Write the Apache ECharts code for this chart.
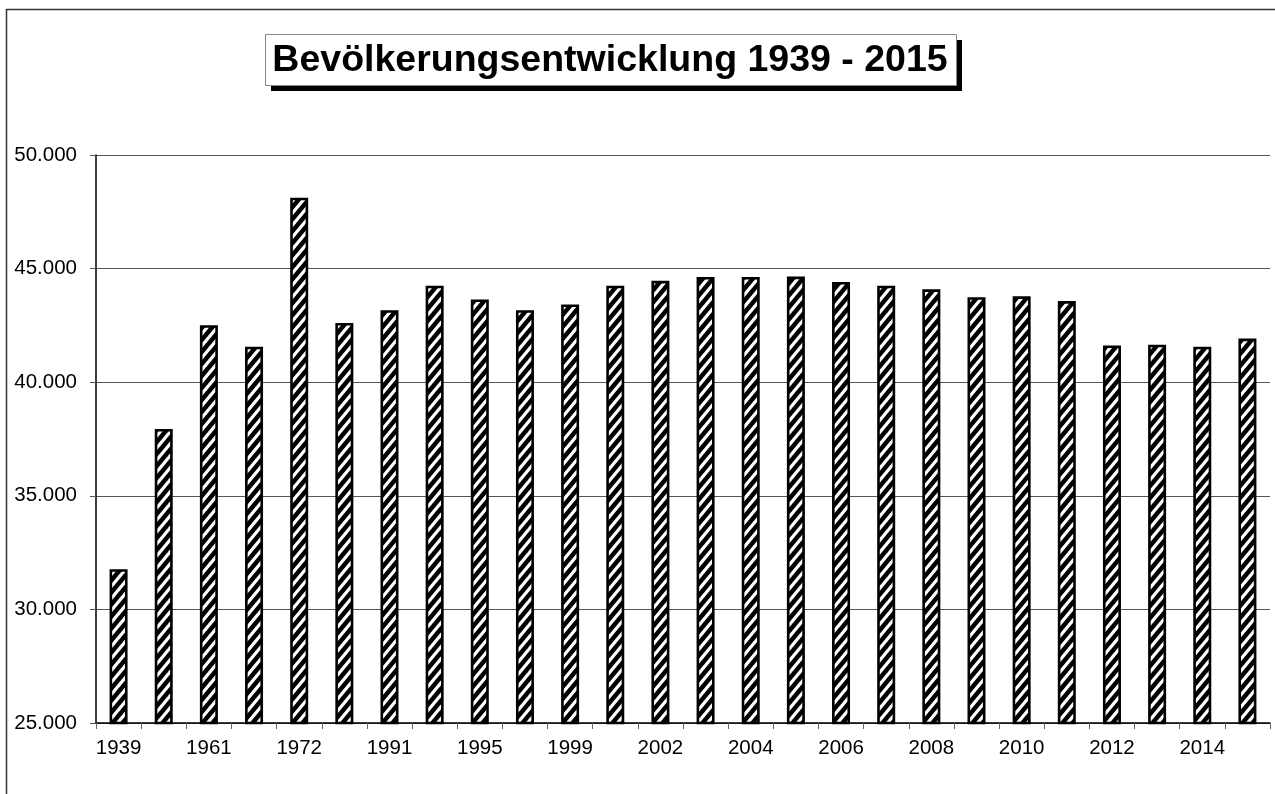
<!DOCTYPE html>
<html>
<head>
<meta charset="utf-8">
<title>Bevölkerungsentwicklung 1939 - 2015</title>
<script src="https://cdn.jsdelivr.net/npm/echarts@6/dist/echarts.min.js"></script>
<style>
    html, body { margin: 0; padding: 0; background: #fff; }
    #chart { width: 1275px; height: 794px; }
</style>
</head>
<body>
<div id="chart"></div>
<script>
// Jahre (x-Achse) und Einwohnerzahlen
let years = ['1939', '1951', '1961', '1970', '1972', '1981', '1991', '1993', '1995', '1997',
    '1999', '2001', '2002', '2003', '2004', '2005', '2006', '2007', '2008', '2009',
    '2010', '2011', '2012', '2013', '2014', '2015'];
let population = [31770, 37940, 42510, 41560, 48120, 42610, 43170, 44250, 43640, 43170,
    43420, 44250, 44460, 44630, 44630, 44650, 44410, 44250, 44090, 43740,
    43780, 43570, 41620, 41650, 41560, 41920];

let y_min = 25000;
let y_max = 50000;
let y_step = 5000;

let font = 'Liberation Sans, Arial, sans-serif';

// black fill with white diagonal stripes
function makeHatch() {
    let w = 10, h = 12;
    let c = document.createElement('canvas');
    c.width = w;
    c.height = h;
    let ctx = c.getContext('2d');
    ctx.fillStyle = '#000';
    ctx.fillRect(0, 0, w, h);
    ctx.strokeStyle = '#fff';
    ctx.lineWidth = 3.2;
    ctx.beginPath();
    for (let k = -1; k <= 1; k++) {
        ctx.moveTo(-w + k * w, 2 * h);
        ctx.lineTo(2 * w + k * w, -h);
    }
    ctx.stroke();
    return c;
}

function drawChart() {
    let my_chart = echarts.init(document.getElementById('chart'));

    let option = {
        animation: false,
        backgroundColor: '#fff',
        graphic: [
            {
                type: 'rect',
                z: -10,
                shape: { x: 6.5, y: 9.5, width: 1400, height: 1000 },
                style: { fill: 'none', stroke: '#333', lineWidth: 1.5 }
            },
            {
                type: 'rect',
                shape: { x: 271, y: 40, width: 691, height: 51 },
                style: { fill: '#000' }
            },
            {
                type: 'rect',
                shape: { x: 265.5, y: 34.5, width: 691, height: 51 },
                style: { fill: '#fff', stroke: '#888', lineWidth: 1 }
            },
            {
                type: 'text',
                x: 610,
                y: 61,
                style: {
                    text: 'Bevölkerungsentwicklung 1939 - 2015',
                    font: 'bold 37.5px ' + font,
                    fill: '#000',
                    align: 'center',
                    verticalAlign: 'middle'
                }
            }
        ],
        grid: {
            left: 96,
            right: 5,
            top: 155,
            bottom: 71
        },
        xAxis: {
            type: 'category',
            data: years,
            boundaryGap: true,
            axisLine: { lineStyle: { color: '#000', width: 1.5 } },
            axisTick: {
                show: true,
                interval: 0,
                length: 6,
                lineStyle: { color: '#666' }
            },
            axisLabel: {
                interval: 1,
                margin: 15,
                color: '#000',
                fontSize: 20.5,
                fontFamily: font
            }
        },
        yAxis: {
            type: 'value',
            min: y_min,
            max: y_max,
            interval: y_step,
            axisLine: { show: true, lineStyle: { color: '#000', width: 1.5 } },
            axisTick: { show: true, length: 6, lineStyle: { color: '#555' } },
            axisLabel: {
                margin: 19,
                color: '#000',
                fontSize: 20.5,
                fontFamily: font,
                formatter: function (v) {
                    return (v / 1000).toFixed(3);
                }
            },
            splitLine: { show: true, lineStyle: { color: '#555', width: 1.2 } }
        },
        series: [
            {
                name: 'Einwohner',
                type: 'bar',
                data: population,
                barWidth: 18,
                itemStyle: {
                    color: { image: makeHatch(), repeat: 'repeat' },
                    borderColor: '#000',
                    borderWidth: 2.6
                }
            }
        ]
    };

    my_chart.setOption(option);
}

drawChart();
</script>
</body>
</html>
